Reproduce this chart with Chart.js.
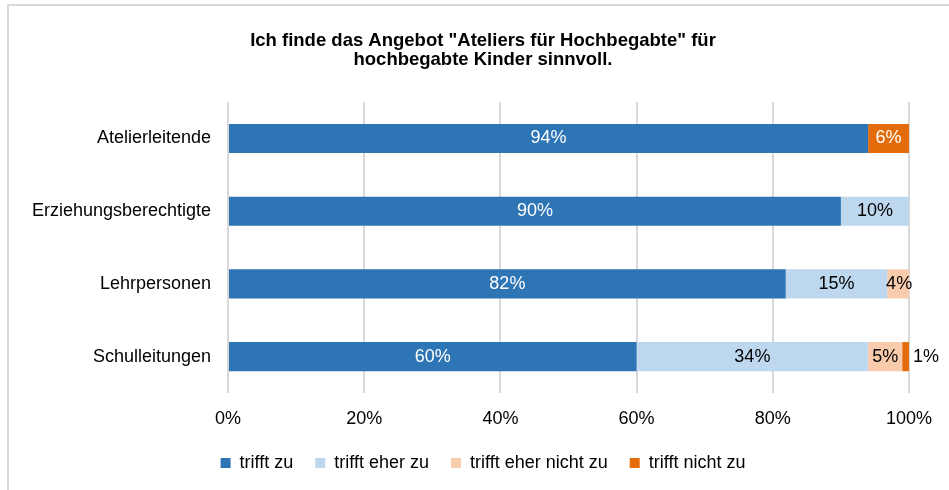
<!DOCTYPE html>
<html>
<head>
<meta charset="utf-8">
<script src="https://cdn.jsdelivr.net/npm/chart.js@4/dist/chart.umd.min.js"></script>
<style>
  html, body { margin: 0; padding: 0; background: #ffffff; overflow: hidden; width: 949px; height: 490px; }
  #frame { position: absolute; left: 7px; top: 4px; width: 1000px; height: 1000px; border: 2px solid #d9d9d9; }
  #c { position: absolute; left: 0; top: 0; }
</style>
</head>
<body>
<div id="frame"></div>
<canvas id="c" width="949" height="490"></canvas>
<script>
const categories = ['Atelierleitende', 'Erziehungsberechtigte', 'Lehrpersonen', 'Schulleitungen'];
const seriesNames = ['trifft zu', 'trifft eher zu', 'trifft eher nicht zu', 'trifft nicht zu'];
const trifftZu = [94, 90, 81.9, 60];
const trifftEherZu = [0, 10, 14.9, 34];
const trifftEherNichtZu = [0, 0, 3.5, 5];
const trifftNichtZu = [6, 0, 0, 1];
const xTicks = [0, 20, 40, 60, 80, 100];
const titleLines = ['Ich finde das Angebot "Ateliers für Hochbegabte" für', 'hochbegabte Kinder sinnvoll.'];

const colors = ['#2E75B6', '#BDD7EE', '#F8CBAD', '#E46C0A'];
const labelColors = ['#ffffff', '#000000', '#000000', '#ffffff'];
const FONT = "'Liberation Sans', Arial, sans-serif";

const seriesData = [trifftZu, trifftEherZu, trifftEherNichtZu, trifftNichtZu];

const labelPlugin = {
  id: 'segLabels',
  afterLayout(chart) {
    // let the category labels use the space left of the padded axis box
    chart.scales.y.left = 0;
  },
  afterDatasetsDraw(chart) {
    const ctx = chart.ctx;
    ctx.save();
    ctx.font = '18px ' + FONT;
    ctx.textBaseline = 'middle';
    chart.data.datasets.forEach((ds, di) => {
      const meta = chart.getDatasetMeta(di);
      meta.data.forEach((bar, i) => {
        const v = ds.data[i];
        if (!v) return;
        const txt = Math.round(v) + '%';
        if (v < 2) {
          ctx.fillStyle = '#000000';
          ctx.textAlign = 'left';
          ctx.fillText(txt, bar.x + 4, bar.y);
        } else {
          ctx.fillStyle = labelColors[di];
          ctx.textAlign = 'center';
          ctx.fillText(txt, (bar.x + bar.base) / 2, bar.y);
        }
      });
    });
    ctx.restore();
  }
};

new Chart(document.getElementById('c'), {
  type: 'bar',
  data: {
    labels: categories,
    datasets: seriesData.map((d, i) => ({
      label: seriesNames[i],
      data: d,
      backgroundColor: colors[i],
      borderWidth: 0,
      barPercentage: 0.4,
      categoryPercentage: 1.0
    }))
  },
  options: {
    indexAxis: 'y',
    responsive: false,
    devicePixelRatio: 1,
    animation: false,
    layout: { padding: { left: 57, right: 40, top: 0, bottom: 8 } },
    scales: {
      x: {
        stacked: true,
        min: 0,
        max: 100,
        afterBuildTicks(scale) { scale.ticks = xTicks.map(v => ({ value: v })); },
        afterFit(scale) { scale.height = 39; },
        grid: { color: '#d9d9d9', lineWidth: 2, drawTicks: false },
        border: { display: false },
        ticks: {
          padding: 15,
          color: '#000000',
          font: { family: FONT, size: 18 },
          callback: v => v + '%'
        }
      },
      y: {
        stacked: true,
        afterFit(scale) { scale.width = 171; },
        grid: { display: false, drawTicks: false },
        border: { display: false },
        ticks: {
          padding: 17,
          color: '#000000',
          font: { family: FONT, size: 18 }
        }
      }
    },
    plugins: {
      title: {
        display: true,
        text: titleLines,
        color: '#000000',
        font: { family: FONT, size: 18.5, weight: 'bold', lineHeight: 1.03 },
        padding: { top: 31, bottom: 33 }
      },
      legend: {
        position: 'bottom',
        labels: {
          boxWidth: 10,
          boxHeight: 10,
          padding: 22,
          color: '#000000',
          font: { family: FONT, size: 18 }
        }
      },
      tooltip: { enabled: false }
    }
  },
  plugins: [labelPlugin]
});
</script>
</body>
</html>
